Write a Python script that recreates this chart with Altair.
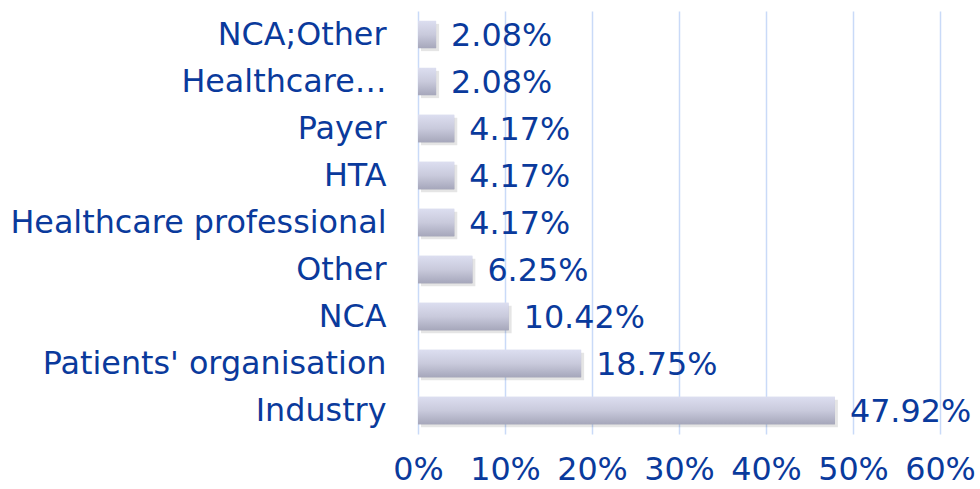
import altair as alt
import pandas as pd

categories = ["NCA;Other", "Healthcare…", "Payer", "HTA", "Healthcare professional",
              "Other", "NCA", "Patients' organisation", "Industry"]
values = [2.08, 2.08, 4.17, 4.17, 4.17, 6.25, 10.42, 18.75, 47.92]
labels = ["2.08%", "2.08%", "4.17%", "4.17%", "4.17%", "6.25%", "10.42%", "18.75%", "47.92%"]
x_ticks = [0, 10, 20, 30, 40, 50, 60]

df = pd.DataFrame({"cat": categories, "val": values, "lab": labels})

FONT = "DejaVu Sans"
BLUE = "#0a3a9c"
FS = 31.8

y_enc = alt.Y("cat:N", sort=categories, title=None,
              scale=alt.Scale(paddingInner=0.42, paddingOuter=0.21),
              axis=alt.Axis(labelFont=FONT, labelFontSize=FS, labelColor=BLUE,
                            labelPadding=32, labelLimit=600, ticks=False,
                            domain=False, grid=False))
x_enc = alt.X("val:Q", title=None,
              scale=alt.Scale(domain=[0, 60], nice=False),
              axis=alt.Axis(values=x_ticks, labelExpr="datum.value + '%'",
                            labelFont=FONT, labelFontSize=FS, labelColor=BLUE,
                            labelPadding=20, labelOverlap=False, labelFlush=False,
                            labelAlign="center", ticks=False, domain=False,
                            grid=True, gridColor="#c9daf8", gridWidth=1.5))

shadow = alt.Chart(df).mark_bar(color="#000000", opacity=0.10, xOffset=3, yOffset=3).encode(
    y=alt.Y("cat:N", sort=categories), x=alt.X("val:Q"))

bars = alt.Chart(df).mark_bar(
    color=alt.Gradient(gradient="linear", x1=0, x2=0, y1=0, y2=1,
                       stops=[alt.GradientStop(offset=0, color="#dcdef0"),
                              alt.GradientStop(offset=0.5, color="#c9cadc"),
                              alt.GradientStop(offset=1, color="#a6a7bb")])
).encode(y=y_enc, x=x_enc)

text = alt.Chart(df).mark_text(align="left", baseline="middle", dx=15, dy=1,
                               font=FONT, fontSize=FS, color=BLUE).encode(
    y=alt.Y("cat:N", sort=categories), x=alt.X("val:Q"), text="lab:N")

chart = alt.layer(bars, shadow, bars, text).properties(
    width=522, height=423,
    padding={"left": 418, "top": 11, "right": 40, "bottom": 55},
    autosize="none",
    background="#ffffff",
).configure_view(stroke=None)

chart.save("out.html", embed_options={"renderer": "svg", "actions": False})
